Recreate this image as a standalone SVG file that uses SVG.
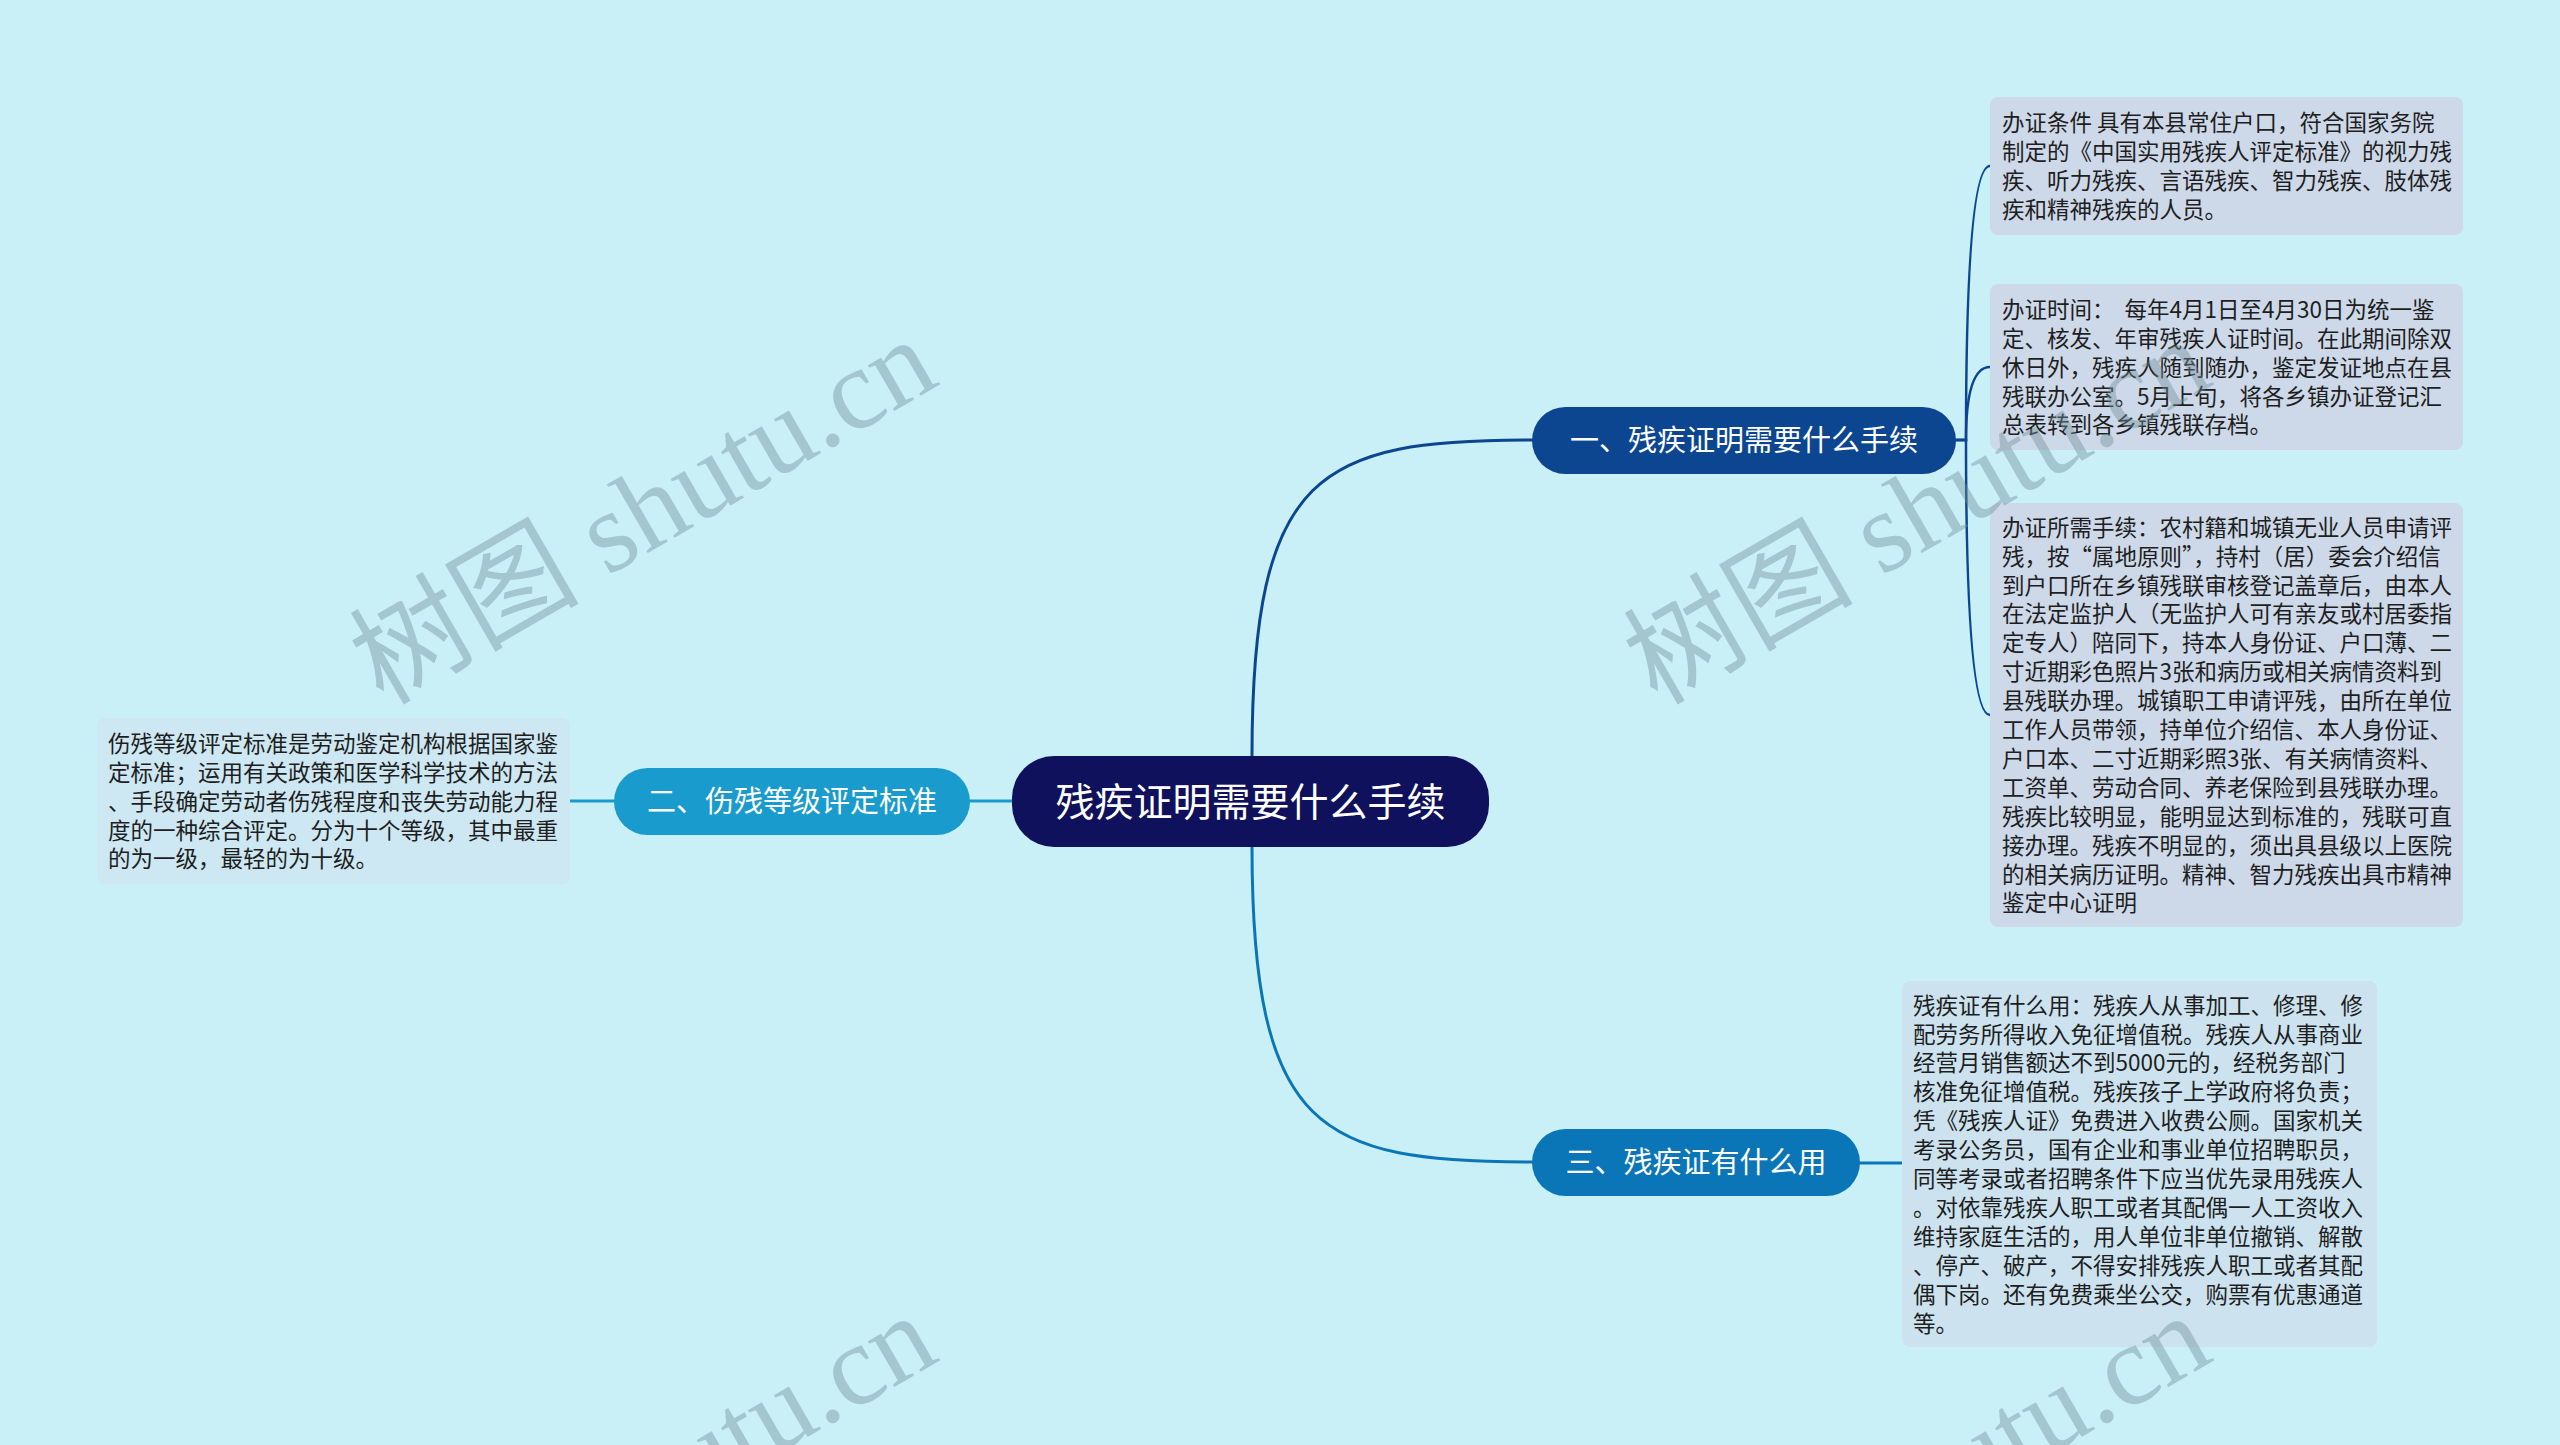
<svg xmlns="http://www.w3.org/2000/svg" width="2560" height="1445" viewBox="0 0 2560 1445">
<style>
.lt{font-family:"Noto Sans CJK SC","Noto Sans",sans-serif;font-size:22.5px;fill:#1e1e1e}
.nt{font-family:"Noto Sans CJK SC","Noto Sans",sans-serif;fill:#ffffff;text-anchor:middle}
.wm{font-family:"Liberation Serif","Noto Sans CJK SC",serif;font-size:115px;fill:#6f8f99;opacity:0.42}
.l1{fill:#cdd9e9}
.l2{fill:#cde8f2}
.l3{fill:#cce3ef}
</style>
<rect x="0" y="0" width="2560" height="1445" fill="#c9eff7"/>
<g id="connectors" fill="none" stroke-linecap="round">
<path d="M1252 756 C1252 470 1320 440 1532 440" stroke="#0c4691" stroke-width="3"/>
<path d="M1252 846 C1252 1132 1320 1162 1532 1162" stroke="#0a76b7" stroke-width="3"/>
<path d="M968 801 H1012" stroke="#1a9bcd" stroke-width="3"/>
<path d="M570 801 H614" stroke="#1a9bcd" stroke-width="3"/>
<path d="M1956 440 H1966 Q1966 166 1990 166" stroke="#0c4691" stroke-width="2.5"/>
<path d="M1956 440 H1966 Q1966 367 1990 367" stroke="#0c4691" stroke-width="2.5"/>
<path d="M1956 440 H1966 Q1966 715 1990 715" stroke="#0c4691" stroke-width="2.5"/>
<path d="M1860 1163 H1902" stroke="#0a76b7" stroke-width="3"/>
</g>
<g id="center">
<rect x="1012" y="756" width="477" height="91" rx="42" fill="#10115c"/>
<text class="nt" x="1250.5" y="816" font-size="39">残疾证明需要什么手续</text>
</g>
<g id="branch1">
<rect x="1532" y="407" width="424" height="67" rx="33.5" fill="#0c4691"/>
<text class="nt" x="1744" y="451" font-size="29">一、残疾证明需要什么手续</text>
</g>
<g id="branch2">
<rect x="614" y="768" width="356" height="67" rx="33.5" fill="#1a9bcd"/>
<text class="nt" x="792" y="812" font-size="29">二、伤残等级评定标准</text>
</g>
<g id="branch3">
<rect x="1532" y="1129" width="328" height="67" rx="33.5" fill="#0a76b7"/>
<text class="nt" x="1696" y="1173" font-size="29">三、残疾证有什么用</text>
</g>
<g id="leaf1">
<rect class="l1" x="1990" y="97" width="473" height="138" rx="8"/>
<text class="lt" xml:space="preserve"><tspan x="2002" y="131.2">办证条件 具有本县常住户口，符合国家务院</tspan><tspan x="2002" y="160.1">制定的《中国实用残疾人评定标准》的视力残</tspan><tspan x="2002" y="189">疾、听力残疾、言语残疾、智力残疾、肢体残</tspan><tspan x="2002" y="217.9">疾和精神残疾的人员。</tspan></text>
</g>
<g id="leaf2">
<rect class="l1" x="1990" y="284" width="473" height="166" rx="8"/>
<text class="lt" xml:space="preserve"><tspan x="2002" y="317.8">办证时间：  每年4月1日至4月30日为统一鉴</tspan><tspan x="2002" y="346.7">定、核发、年审残疾人证时间。在此期间除双</tspan><tspan x="2002" y="375.6">休日外，残疾人随到随办，鉴定发证地点在县</tspan><tspan x="2002" y="404.5">残联办公室。5月上旬，将各乡镇办证登记汇</tspan><tspan x="2002" y="433.4">总表转到各乡镇残联存档。</tspan></text>
</g>
<g id="leaf3">
<rect class="l1" x="1990" y="503" width="473" height="424" rx="8"/>
<text class="lt"><tspan x="2002" y="535.7">办证所需手续：农村籍和城镇无业人员申请评</tspan><tspan x="2002" y="564.6">残，按“属地原则”，持村（居）委会介绍信</tspan><tspan x="2002" y="593.5">到户口所在乡镇残联审核登记盖章后，由本人</tspan><tspan x="2002" y="622.4">在法定监护人（无监护人可有亲友或村居委指</tspan><tspan x="2002" y="651.3">定专人）陪同下，持本人身份证、户口薄、二</tspan><tspan x="2002" y="680.2">寸近期彩色照片3张和病历或相关病情资料到</tspan><tspan x="2002" y="709.1">县残联办理。城镇职工申请评残，由所在单位</tspan><tspan x="2002" y="738">工作人员带领，持单位介绍信、本人身份证、</tspan><tspan x="2002" y="766.9">户口本、二寸近期彩照3张、有关病情资料、</tspan><tspan x="2002" y="795.8">工资单、劳动合同、养老保险到县残联办理。</tspan><tspan x="2002" y="824.7">残疾比较明显，能明显达到标准的，残联可直</tspan><tspan x="2002" y="853.6">接办理。残疾不明显的，须出具县级以上医院</tspan><tspan x="2002" y="882.5">的相关病历证明。精神、智力残疾出具市精神</tspan><tspan x="2002" y="911.4">鉴定中心证明</tspan></text>
</g>
<g id="leaf4">
<rect class="l3" x="1902" y="981" width="475" height="366" rx="8"/>
<text class="lt"><tspan x="1913" y="1013.6">残疾证有什么用：残疾人从事加工、修理、修</tspan><tspan x="1913" y="1042.5">配劳务所得收入免征增值税。残疾人从事商业</tspan><tspan x="1913" y="1071.4">经营月销售额达不到5000元的，经税务部门</tspan><tspan x="1913" y="1100.3">核准免征增值税。残疾孩子上学政府将负责；</tspan><tspan x="1913" y="1129.2">凭《残疾人证》免费进入收费公厕。国家机关</tspan><tspan x="1913" y="1158.1">考录公务员，国有企业和事业单位招聘职员，</tspan><tspan x="1913" y="1187">同等考录或者招聘条件下应当优先录用残疾人</tspan><tspan x="1913" y="1215.9">。对依靠残疾人职工或者其配偶一人工资收入</tspan><tspan x="1913" y="1244.8">维持家庭生活的，用人单位非单位撤销、解散</tspan><tspan x="1913" y="1273.7">、停产、破产，不得安排残疾人职工或者其配</tspan><tspan x="1913" y="1302.6">偶下岗。还有免费乘坐公交，购票有优惠通道</tspan><tspan x="1913" y="1331.5">等。</tspan></text>
</g>
<g id="leaf5">
<rect class="l2" x="97" y="718" width="473" height="166" rx="8"/>
<text class="lt"><tspan x="108" y="751.8">伤残等级评定标准是劳动鉴定机构根据国家鉴</tspan><tspan x="108" y="780.7">定标准；运用有关政策和医学科学技术的方法</tspan><tspan x="108" y="809.6">、手段确定劳动者伤残程度和丧失劳动能力程</tspan><tspan x="108" y="838.5">度的一种综合评定。分为十个等级，其中最重</tspan><tspan x="108" y="867.4">的为一级，最轻的为十级。</tspan></text>
</g>
<g id="watermarks">
<text class="wm" x="383" y="706" transform="rotate(-30 383 706)">树图 shutu.cn</text>
<text class="wm" x="1657" y="706" transform="rotate(-30 1657 706)">树图 shutu.cn</text>
<text class="wm" x="383" y="1682" transform="rotate(-30 383 1682)">树图 shutu.cn</text>
<text class="wm" x="1657" y="1682" transform="rotate(-30 1657 1682)">树图 shutu.cn</text>
</g>
</svg>
